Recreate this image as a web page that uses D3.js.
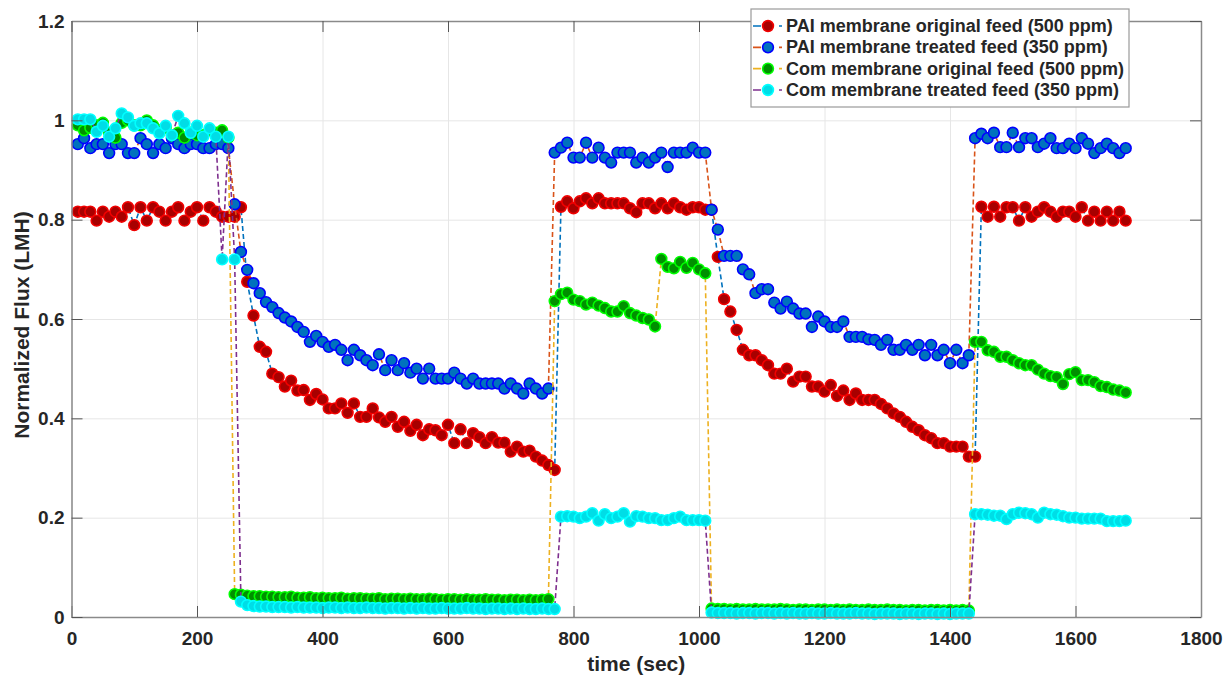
<!DOCTYPE html>
<html>
<head>
<meta charset="utf-8">
<script src="https://d3js.org/d3.v7.min.js"></script>
<style>
  body { margin: 0; background: #fff; }
  svg text { font-family: 'Liberation Sans', Arial, sans-serif; font-weight: bold; fill: #262626; }
</style>
</head>
<body>
<svg id="chart" width="1226" height="678"></svg>
<script>

// time axis: one sample every 10 s
var time = d3.range(10, 1690, 10);

var xTicks = [0, 200, 400, 600, 800, 1000, 1200, 1400, 1600, 1800];
var yTicks = [0, 0.2, 0.4, 0.6, 0.8, 1, 1.2];

var seriesNames = [
  "PAI membrane original feed (500 ppm)",
  "PAI membrane treated feed (350 ppm)",
  "Com membrane original feed (500 ppm)",
  "Com membrane treated feed (350 ppm)"
];

var paiOriginal = [
  // 10 - 270
  .816,.816,.816,.798,.816,.806,.816,.806,.825,.789,.825,.798,.825,.816,.798,.816,.825,.798,.816,.825,.798,.825,.816,.806,.806,.806,.825,
  // 280 - 770
  .675,.607,.544,.534,.490,.483,.464,.476,.456,.457,.437,.449,.438,.420,.420,.430,.411,.430,.403,.403,
  .420,.402,.393,.403,.383,.393,.375,.387,.366,.378,.376,.366,.387,.350,.378,.350,.370,.362,.350,.362,
  .351,.351,.333,.343,.333,.335,.323,.315,.306,.296,
  // 780 - 1010
  .826,.837,.823,.837,.843,.833,.843,.833,.833,.833,.833,.823,.815,.833,.833,.823,.833,.823,.833,.825,.820,.825,.825,.820,
  // 1020 - 1440
  .820,.725,.640,.615,.578,.538,.527,.527,.517,.507,.490,.490,.500,.474,.484,.484,.464,.464,.454,.467,
  .445,.456,.437,.450,.437,.437,.437,.429,.420,.410,.403,.393,.383,.376,.366,.360,.350,.350,.343,.343,
  .343,.323,.323,
  // 1450 - 1680
  .826,.806,.826,.806,.825,.825,.798,.825,.806,.816,.825,.816,.806,.816,.816,.806,.825,.798,.816,.798,.816,.798,.816,.798
];

var paiTreated = [
  // 10 - 250
  .952,.964,.944,.952,.952,.934,.952,.952,.934,.934,.964,.952,.934,.952,.944,.964,.952,.944,.952,.952,.944,.944,.952,.952,.944,
  // 260 - 760
  .831,.735,.699,.672,.652,.634,.624,.612,.603,.595,.584,.574,.554,.566,.554,.544,.548,.538,.517,.538,
  .527,.517,.507,.529,.497,.517,.497,.511,.492,.500,.480,.500,.480,.480,.480,.492,.480,.470,.480,.470,
  .470,.470,.470,.460,.470,.460,.450,.470,.460,.450,.460,
  // 770 - 1010
  .935,.945,.955,.925,.925,.955,.925,.945,.925,.915,.935,.935,.935,.915,.925,.915,.925,.935,.906,.935,.935,.935,.945,.935,.935,
  // 1020 - 1430
  .820,.780,.727,.727,.727,.700,.690,.652,.660,.660,.633,.621,.635,.621,.611,.611,.584,.605,.595,.584,
  .584,.595,.564,.564,.564,.559,.558,.548,.558,.538,.538,.548,.538,.548,.527,.548,.527,.538,.511,.538,
  .511,.527,
  // 1440 - 1680
  .964,.973,.964,.975,.946,.946,.975,.946,.964,.964,.946,.953,.964,.944,.944,.953,.944,.964,.953,.934,.944,.953,.944,.934,.944
];

var comOriginal = [
  // 10 - 250
  .990,.980,.985,.990,.995,.975,.965,.995,1.000,.990,.990,1.000,.990,.980,.985,.970,.975,.965,.975,.970,.970,.980,.975,.980,.965,
  // 260 - 760
  .046,.045,.043,.042,.042,.041,.041,.040,.040,.041,.039,.039,.040,.038,.039,.038,.038,.039,.037,.038,
  .038,.037,.037,.038,.036,.037,.037,.036,.037,.036,.036,.037,.036,.035,.036,.036,.035,.036,.035,.035,
  .036,.035,.035,.034,.035,.035,.034,.035,.034,.035,.036,
  // 770 - 930
  .636,.650,.653,.639,.636,.629,.633,.627,.622,.615,.615,.626,.612,.607,.602,.599,.585,
  // 940 - 1010
  .721,.705,.702,.715,.703,.713,.700,.692,
  // 1020 - 1430
  .017,.016,.016,.015,.016,.015,.015,.016,.015,.015,.015,.016,.015,.014,.015,.015,.014,.015,.015,.014,
  .015,.014,.015,.014,.014,.015,.014,.014,.015,.014,.014,.013,.014,.014,.013,.014,.014,.013,.014,.013,
  .014,.013,
  // 1440 - 1680
  .554,.554,.537,.534,.524,.524,.517,.511,.507,.507,.498,.490,.485,.483,.469,.489,.493,.477,.477,.473,.465,.463,.458,.456,.452
];

var comTreated = [
  // 10 - 260
  1.002,1.002,1.002,.977,.989,.967,.984,1.014,1.006,.989,.994,.994,.984,.974,.989,.970,1.009,.994,.975,.989,.967,.984,.967,
  .720,.967,.720,
  // 270 - 770
  .031,.024,.022,.021,.021,.020,.020,.020,.019,.020,.019,.019,.019,.018,.019,.019,.018,.019,.018,.018,
  .019,.018,.018,.017,.018,.018,.017,.018,.017,.018,.017,.017,.018,.017,.017,.017,.018,.017,.017,.016,
  .017,.017,.016,.017,.016,.017,.016,.016,.017,.016,.016,
  // 780 - 1010
  .202,.203,.202,.199,.202,.209,.194,.207,.199,.202,.209,.192,.203,.202,.199,.199,.195,.195,.199,.202,.195,.195,.195,.194,
  // 1020 - 1430
  .009,.008,.008,.008,.007,.008,.008,.007,.008,.008,.007,.008,.007,.008,.007,.007,.008,.007,.007,.008,
  .007,.007,.007,.008,.007,.007,.006,.007,.007,.007,.006,.007,.007,.006,.007,.007,.006,.007,.006,.007,
  .007,.007,
  // 1440 - 1680
  .207,.207,.206,.204,.204,.197,.207,.210,.209,.207,.200,.210,.207,.206,.203,.200,.200,.198,.198,.198,.198,.193,.193,.193,.194
];

// matlab style: line colour differs from marker colour
var lineColors   = ["#0072BD", "#D95319", "#EDB120", "#7E2F8E"];
var markerFill   = ["#A80000", "#0072BD", "#009000", "#00DDE6"];
var markerStroke = ["#F00000", "#0000FF", "#00FF00", "#00FFFF"];

var svg = d3.select("#chart");

var plotLeft = 71.5, plotRight = 1201, plotTop = 21, plotBottom = 617;
var x = d3.scaleLinear().domain([0, 1800]).range([plotLeft, plotRight]);
var y = d3.scaleLinear().domain([0, 1.2]).range([plotBottom, plotTop]);

// grid
svg.append("g")
  .attr("transform", "translate(0," + plotBottom + ")")
  .call(d3.axisBottom(x).tickValues(xTicks).tickSize(-(plotBottom - plotTop)).tickFormat(""))
  .call(g => g.select(".domain").remove())
  .call(g => g.selectAll("line").attr("stroke", "#e6e6e6"));
svg.append("g")
  .attr("transform", "translate(" + plotLeft + ",0)")
  .call(d3.axisLeft(y).tickValues(yTicks).tickSize(-(plotRight - plotLeft)).tickFormat(""))
  .call(g => g.select(".domain").remove())
  .call(g => g.selectAll("line").attr("stroke", "#e6e6e6"));

// data
var allSeries = [paiOriginal, paiTreated, comOriginal, comTreated].map(function(vals, i) {
  return { name: seriesNames[i], idx: i, points: vals.map(function(v, j) { return { t: time[j], v: v }; }) };
});

var line = d3.line().x(d => x(d.t)).y(d => y(d.v));

allSeries.forEach(function(s) {
  var g = svg.append("g");
  g.append("path")
    .attr("d", line(s.points))
    .attr("fill", "none")
    .attr("stroke", lineColors[s.idx])
    .attr("stroke-width", 1.6)
    .attr("stroke-dasharray", "5,3");
  g.selectAll("circle")
    .data(s.points)
    .enter()
    .append("circle")
    .attr("cx", d => x(d.t))
    .attr("cy", d => y(d.v))
    .attr("r", 5.4)
    .attr("fill", markerFill[s.idx])
    .attr("stroke", markerStroke[s.idx])
    .attr("stroke-width", 1.6);
});

// axes (ticks inside, box)
function styleAxis(g) {
  g.select(".domain").attr("stroke", "#8a8a8a").attr("stroke-width", 1.5);
  g.selectAll(".tick line").attr("stroke", "#555");
  g.selectAll(".tick text").style("font-size", "19px").attr("fill", "#262626");
}
svg.append("g")
  .attr("transform", "translate(0," + plotBottom + ")")
  .call(d3.axisBottom(x).tickValues(xTicks).tickSizeInner(-11).tickSizeOuter(0).tickPadding(15).tickFormat(d3.format("d")))
  .call(styleAxis);
svg.append("g")
  .attr("transform", "translate(" + plotLeft + ",0)")
  .call(d3.axisLeft(y).tickValues(yTicks).tickSizeInner(-11).tickSizeOuter(0).tickPadding(7).tickFormat(d => d3.format("~g")(d)))
  .call(styleAxis);
svg.append("g")
  .attr("transform", "translate(0," + plotTop + ")")
  .call(d3.axisTop(x).tickValues(xTicks).tickSizeInner(-11).tickSizeOuter(0).tickFormat(""))
  .call(styleAxis);
svg.append("g")
  .attr("transform", "translate(" + plotRight + ",0)")
  .call(d3.axisRight(y).tickValues(yTicks).tickSizeInner(-11).tickSizeOuter(0).tickFormat(""))
  .call(styleAxis);

// axis labels
svg.append("text")
  .attr("x", (plotLeft + plotRight) / 2)
  .attr("y", 671)
  .attr("text-anchor", "middle")
  .style("font-size", "21px")
  .text("time (sec)");
svg.append("text")
  .attr("transform", "translate(29," + ((plotTop + plotBottom) / 2 + 6) + ") rotate(-90)")
  .attr("text-anchor", "middle")
  .style("font-size", "21px")
  .text("Normalized Flux (LMH)");

// legend
var legend = svg.append("g");
legend.append("rect")
  .attr("x", 751).attr("y", 9)
  .attr("width", 378).attr("height", 98)
  .attr("fill", "#fff")
  .attr("stroke", "#9a9a9a")
  .attr("stroke-width", 1.2);

var rowY = d3.scalePoint().domain(d3.range(seriesNames.length)).range([26, 90]);

allSeries.forEach(function(s) {
  var cy = rowY(s.idx);
  legend.append("line")
    .attr("x1", 753).attr("x2", 782)
    .attr("y1", cy).attr("y2", cy)
    .attr("stroke", lineColors[s.idx])
    .attr("stroke-width", 1.6)
    .attr("stroke-dasharray", "8,18,3");
  legend.append("circle")
    .attr("cx", 768).attr("cy", cy).attr("r", 5.4)
    .attr("fill", markerFill[s.idx])
    .attr("stroke", markerStroke[s.idx])
    .attr("stroke-width", 1.6);
  legend.append("text")
    .attr("x", 786).attr("y", cy + 6)
    .style("font-size", "18px")
    .text(s.name);
});

</script>
</body>
</html>
